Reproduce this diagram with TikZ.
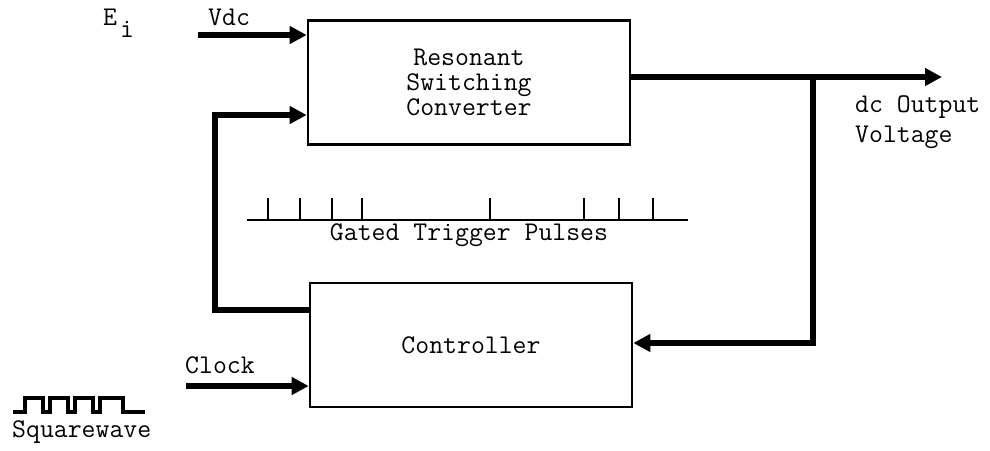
\documentclass[tikz,border=0pt]{standalone}
\usepackage{fontspec}
\usetikzlibrary{arrows.meta}
\tikzset{
  block/.style={draw, line width=2.6pt, minimum width=322pt, minimum height=124pt, inner sep=0pt},
  signal/.style={line width=6.5pt, -{Triangle[length=17pt,width=17pt]}},
  label/.style={anchor=base west, inner sep=0pt}
}
\begin{document}
\begin{tikzpicture}[x=1pt, y=-1pt, font=\ttfamily\fontsize{27}{25}\selectfont]
		%%%%% START %%%%%
		\useasboundingbox (0, 0) rectangle (990, 450);
		
		% the two blocks
		\node[block, align=center] (conv) at (469, 82.5) {Resonant\\Switching\\Converter};
		\node[block] (ctrl) at (471, 345) {Controller};
		
		% inputs on the left
		\node[label] (ei) at (103, 25) {E\kern3pt\raisebox{-12pt}{i}};
		\node[label] (vdc) at (208, 25) {Vdc};
		\coordinate (vdcin) at (198, 35);
		\draw[signal] (vdcin) -- (vdcin -| conv.west);
		
		\node[label] (clock) at (185, 373) {Clock};
		\coordinate (clkin) at (186, 386);
		\draw[signal] (clkin) -- (clkin -| ctrl.west);
		
		% trigger path from controller back to converter
		\coordinate (trigout) at (ctrl.west |- 0, 310);
		\coordinate (trigup) at (215, 310);
		\coordinate (trigin) at (conv.west |- 0, 115);
		\draw[signal] (trigout) -- (trigup) -- (trigup |- trigin) -- (trigin);
		
		% output and voltage feedback
		\coordinate (vout) at (942, 77);
		\coordinate (tap) at (813, 77);
		\draw[signal] (conv.east |- vout) -- (vout);
		\draw[signal] (tap) -- (tap |- 0, 343) -- (ctrl.east |- 0, 343);
		\node[label] (dcout) at (855, 112) {dc Output};
		\node[label] (volt) at (855, 142) {Voltage};
		
		% gated trigger pulses
		\draw[line width=2.8pt] (247, 220) -- (688, 220);
		\draw[line width=2.8pt] (268, 220) -- (268, 198);
		\draw[line width=2.8pt] (300, 220) -- (300, 198);
		\draw[line width=2.8pt] (332, 220) -- (332, 198);
		\draw[line width=2.8pt] (362, 220) -- (362, 198);
		\draw[line width=2.8pt] (490, 220) -- (490, 198);
		\draw[line width=2.8pt] (584, 220) -- (584, 198);
		\draw[line width=2.8pt] (619, 220) -- (619, 198);
		\draw[line width=2.8pt] (653, 220) -- (653, 198);
		\node[anchor=base, inner sep=0pt] (gated) at (469, 240) {Gated Trigger Pulses};
		
		% clock squarewave
		\draw[line width=3.2pt] (13, 412) -- (25, 412) -- (25, 398) -- (43, 398) -- (43, 412)
		  -- (50, 412) -- (50, 398) -- (68, 398) -- (68, 412) -- (75, 412) -- (75, 398)
		  -- (93, 398) -- (93, 412) -- (100, 412) -- (100, 398) -- (123, 398) -- (123, 412) -- (145, 412);
		\node[label] (sqw) at (12, 437) {Squarewave};
		
		%%%%% END %%%%%
	\end{tikzpicture}
\end{document}
